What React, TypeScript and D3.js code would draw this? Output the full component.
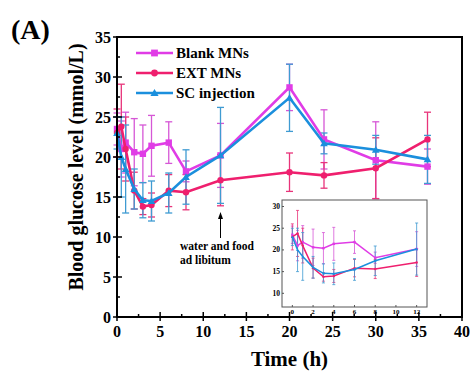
import React from "react";
import * as d3 from "d3";

// time points (h)
const times = [0, 0.5, 1, 2, 3, 4, 6, 8, 12, 20, 24, 30, 36];
const blank = [23.5, 21.0, 21.8, 20.6, 20.4, 21.4, 21.8, 18.2, 20.2, 28.7, 22.2, 19.6, 18.8];
const blankErr = [2.0, 3.5, 3.8, 4.2, 3.6, 3.8, 2.6, 1.3, 4.0, 2.9, 3.7, 4.8, 2.2];
const ext = [23.0, 23.8, 21.0, 15.8, 13.8, 14.0, 15.8, 15.6, 17.1, 18.1, 17.7, 18.6, 22.2];
const extErr = [3.0, 5.3, 4.0, 2.3, 1.0, 1.5, 2.0, 2.2, 3.2, 2.4, 1.6, 3.8, 3.4];
const sc = [23.0, 20.0, 18.5, 16.0, 14.6, 14.5, 15.5, 17.5, 20.2, 27.4, 21.7, 20.9, 19.7];
const scErr = [2.0, 5.0, 5.5, 2.5, 2.2, 2.5, 2.5, 3.4, 6.0, 4.2, 1.3, 1.8, 3.0];

const xTicks = [0, 5, 10, 15, 20, 25, 30, 35, 40];
const yTicks = [0, 5, 10, 15, 20, 25, 30, 35];
const insetXTicks = [0, 2, 4, 6, 8, 10, 12];
const insetYTicks = [10, 15, 20, 25, 30];

const series = [
  { name: "Blank MNs", values: blank, err: blankErr, color: "#e03ce6", errColor: "#d657d6", marker: "square" },
  { name: "EXT MNs", values: ext, err: extErr, color: "#ef1f6e", errColor: "#e8347a", marker: "circle" },
  { name: "SC injection", values: sc, err: scErr, color: "#1b8fdd", errColor: "#3f9bd2", marker: "triangle" },
];

const FONT = "'Liberation Serif', 'Times New Roman', serif";

function Marker({ kind, x, y, r, color }: { kind: string; x: number; y: number; r: number; color: string }) {
  if (kind === "square") return <rect x={x - r} y={y - r} width={2 * r} height={2 * r} fill={color} />;
  if (kind === "circle") return <circle cx={x} cy={y} r={r} fill={color} />;
  const h = r * 1.2;
  return <path d={`M${x},${y - h}L${x + h},${y + h * 0.75}L${x - h},${y + h * 0.75}Z`} fill={color} />;
}

export default function App() {
  const x = d3.scaleLinear().domain([0, 40]).range([117, 462]);
  const y = d3.scaleLinear().domain([0, 35]).range([317, 37]);

  // inset
  const ixDom = [-1, 13];
  const iyDom = [6.85, 31.5];
  const ix = d3.scaleLinear().domain(ixDom).range([282, 427]);
  const iy = d3.scaleLinear().domain(iyDom).range([307, 200]);
  const insetIdx = times.map((t, i) => i).filter((i) => times[i] <= 12);

  const minor = d3.range(0, 40.1, 2.5);
  const yMinor = d3.range(0, 35.1, 2.5);

  return (
    <svg width={470} height={372} style={{ position: "absolute", left: 0, top: 0, background: "#fff" }} fontFamily={FONT}>
      <text x={11} y={39} fontSize={28} fontWeight="bold">(A)</text>

      {/* error bars */}
      {series.map((s) => (
        <g key={s.name + "err"} stroke={s.errColor} strokeWidth={1.3}>
          {times.map((t, i) => {
            const cx = x(t);
            const y1 = y(s.values[i] + s.err[i]);
            const y2 = y(s.values[i] - s.err[i]);
            return (
              <g key={i}>
                <line x1={cx} x2={cx} y1={y1} y2={y2} />
                <line x1={cx - 3.5} x2={cx + 3.5} y1={y1} y2={y1} />
                <line x1={cx - 3.5} x2={cx + 3.5} y1={y2} y2={y2} />
              </g>
            );
          })}
        </g>
      ))}

      {/* lines and markers */}
      {series.map((s) => {
        const path = d3
          .line<number>()
          .x((v, i) => x(times[i]))
          .y((v) => y(v))(s.values);
        return (
          <g key={s.name}>
            <path d={path ?? ""} fill="none" stroke={s.color} strokeWidth={2.6} />
            {s.values.map((v, i) => (
              <Marker key={i} kind={s.marker} x={x(times[i])} y={y(v)} r={3.2} color={s.color} />
            ))}
          </g>
        );
      })}

      {/* legend */}
      {series.map((s, k) => {
        const ly = 53 + k * 20;
        return (
          <g key={s.name + "leg"}>
            <line x1={136} x2={173} y1={ly} y2={ly} stroke={s.color} strokeWidth={2.6} />
            <Marker kind={s.marker} x={154.5} y={ly} r={3.4} color={s.color} />
            <text x={176} y={ly + 5} fontSize={15} fontWeight="bold">{s.name}</text>
          </g>
        );
      })}

      {/* annotation */}
      <line x1={x(12)} x2={x(12)} y1={238} y2={216} stroke="#000" strokeWidth={1} />
      <path d={`M${x(12) - 2.5},${219}L${x(12)},${212}L${x(12) + 2.5},${219}Z`} fill="#000" />
      <text x={180} y={250} fontSize={11.5} fontWeight="bold">water and food</text>
      <text x={180} y={264} fontSize={11.5} fontWeight="bold">ad libitum</text>

      {/* inset */}
      <g>
        <rect x={ix(ixDom[0])} y={iy(iyDom[1])} width={ix(ixDom[1]) - ix(ixDom[0])} height={iy(iyDom[0]) - iy(iyDom[1])} fill="#fff" stroke="#555" strokeWidth={1} />
        {series.map((s) => (
          <g key={s.name + "ierr"} stroke={s.errColor} strokeWidth={0.8}>
            {insetIdx.map((i) => {
              const cx = ix(times[i]);
              const y1 = iy(s.values[i] + s.err[i]);
              const y2 = iy(s.values[i] - s.err[i]);
              return (
                <g key={i}>
                  <line x1={cx} x2={cx} y1={y1} y2={y2} />
                  <line x1={cx - 1.5} x2={cx + 1.5} y1={y1} y2={y1} />
                  <line x1={cx - 1.5} x2={cx + 1.5} y1={y2} y2={y2} />
                </g>
              );
            })}
          </g>
        ))}
        {series.map((s) => {
          const p = d3
            .line<number>()
            .x((i) => ix(times[i]))
            .y((i) => iy(s.values[i]))(insetIdx);
          return (
            <g key={s.name + "iline"}>
              <path d={p ?? ""} fill="none" stroke={s.color} strokeWidth={1.5} />
              {insetIdx.map((i) => (
                <Marker key={i} kind={s.marker} x={ix(times[i])} y={iy(s.values[i])} r={1.2} color={s.color} />
              ))}
            </g>
          );
        })}
        {insetYTicks.map((t) => (
          <g key={"iy" + t}>
            <line x1={ix(ixDom[0])} x2={ix(ixDom[0]) + 2} y1={iy(t)} y2={iy(t)} stroke="#555" />
            <text x={ix(ixDom[0]) - 2} y={iy(t) + 2.5} fontSize={7.5} fontWeight="bold" textAnchor="end">{t}</text>
          </g>
        ))}
        {insetXTicks.map((t) => (
          <g key={"ix" + t}>
            <line x1={ix(t)} x2={ix(t)} y1={iy(iyDom[0])} y2={iy(iyDom[0]) - 2} stroke="#555" />
            <text x={ix(t)} y={iy(iyDom[0]) + 7} fontSize={7} fontWeight="bold" textAnchor="middle">{t}</text>
          </g>
        ))}
      </g>

      {/* frame */}
      <rect x={x(0)} y={y(35)} width={x(40) - x(0)} height={y(0) - y(35)} fill="none" stroke="#000" strokeWidth={2} />

      {/* x axis */}
      {minor.map((t) => (
        <line key={"xm" + t} x1={x(t)} x2={x(t)} y1={y(0)} y2={y(0) - (t % 5 === 0 ? 5 : 3)} stroke="#000" strokeWidth={1.5} />
      ))}
      {xTicks.map((t) => (
        <g key={"x" + t}>
          <line x1={x(t)} x2={x(t)} y1={y(0)} y2={y(0) + 4} stroke="#000" strokeWidth={1.5} />
          <text x={x(t)} y={337} fontSize={16} fontWeight="bold" textAnchor="middle">{t}</text>
        </g>
      ))}
      {/* y axis */}
      {yMinor.map((t) => (
        <line key={"ym" + t} x1={x(0)} x2={x(0) + (t % 5 === 0 ? 5 : 3)} y1={y(t)} y2={y(t)} stroke="#000" strokeWidth={1.5} />
      ))}
      {yTicks.map((t) => (
        <g key={"y" + t}>
          <line x1={x(0) - 4} x2={x(0)} y1={y(t)} y2={y(t)} stroke="#000" strokeWidth={1.5} />
          <text x={x(0) - 6} y={y(t) + 5.5} fontSize={16} fontWeight="bold" textAnchor="end">{t}</text>
        </g>
      ))}

      <text x={x(20)} y={366} fontSize={21} fontWeight="bold" textAnchor="middle">Time (h)</text>
      <text transform={`translate(83,167) rotate(-90)`} fontSize={20} fontWeight="bold" textAnchor="middle">
        Blood glucose level (mmol/L)
      </text>
    </svg>
  );
}
